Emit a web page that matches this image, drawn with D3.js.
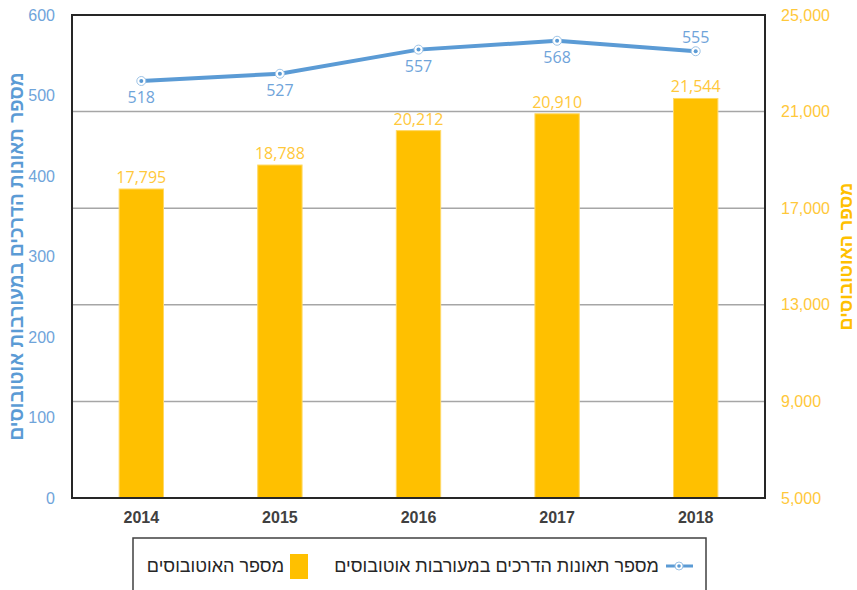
<!DOCTYPE html>
<html>
<head>
<meta charset="utf-8">
<script src="https://cdn.jsdelivr.net/npm/d3@7"></script>
<style>
	body { margin: 0; background: #fff; }
	text { font-family: "Liberation Sans", "DejaVu Sans", sans-serif; }
	.num { font-family: "Open Sans", "Liberation Sans", sans-serif; }
</style>
</head>
<body>
<div id="wrapper"></div>
<script>
	// Data
	const years = ['2014', '2015', '2016', '2017', '2018']
	const accidents = [518, 527, 557, 568, 555]
	const buses = [17795, 18788, 20212, 20910, 21544]
	const leftTicks = [0, 100, 200, 300, 400, 500, 600]
	const rightTicks = [5000, 9000, 13000, 17000, 21000, 25000]
	// which accident labels sit above the point
	const labelAbove = [false, false, false, false, true]

	const leftTitle = 'מספר תאונות הדרכים במעורבות אוטובוסים'
	const rightTitle = 'מספר האוטובוסים'

	const blue = '#5B9BD5'
	const lightBlue = '#6FA4DA'
	const yellow = '#FFC000'
	const lightYellow = '#FFC83A'

	// Chart Dimensions
	let dimensions = {
		width: 857,
		height: 590,
		margin: { top: 15, bottom: 92, right: 92, left: 72 }
	}
	dimensions.boundedWidth = dimensions.width - dimensions.margin.left - dimensions.margin.right
	dimensions.boundedHeight = dimensions.height - dimensions.margin.top - dimensions.margin.bottom

	const wrapper = d3.select('#wrapper')
		.append('svg')
			.attr('width', dimensions.width)
			.attr('height', dimensions.height)

	const bounds = wrapper.append('g')
		.attr('transform', `translate(${dimensions.margin.left},${dimensions.margin.top})`)

	// Scales
	const xScale = d3.scaleBand()
		.domain(years)
		.range([0, dimensions.boundedWidth])
		.padding(0)

	const yLeft = d3.scaleLinear()
		.domain([0, 600])
		.range([dimensions.boundedHeight, 0])

	const yRight = d3.scaleLinear()
		.domain([5000, 25000])
		.range([dimensions.boundedHeight, 0])

	const barWidth = xScale.bandwidth() * 0.32
	const cx = d => xScale(d) + xScale.bandwidth() / 2

	// Gridlines (from secondary axis)
	bounds.append('g')
		.selectAll('line')
		.data(rightTicks.slice(1, -1))
		.join('line')
			.attr('x1', 0)
			.attr('x2', dimensions.boundedWidth)
			.attr('y1', d => yRight(d))
			.attr('y2', d => yRight(d))
			.attr('stroke', '#a6a6a6')
			.attr('stroke-width', 1.5)

	// Bars
	bounds.append('g')
		.selectAll('rect')
		.data(buses)
		.join('rect')
			.attr('x', (d, i) => cx(years[i]) - barWidth / 2)
			.attr('width', barWidth)
			.attr('y', d => yRight(d))
			.attr('height', d => dimensions.boundedHeight - yRight(d))
			.attr('fill', yellow)
			.attr('stroke', '#FFD966')
			.attr('stroke-width', 1)

	// Bar labels
	bounds.append('g')
		.selectAll('text')
		.data(buses)
		.join('text')
			.attr('class', 'num')
			.attr('x', (d, i) => cx(years[i]))
			.attr('y', d => yRight(d) - 6)
			.attr('text-anchor', 'middle')
			.attr('font-size', 16)
			.attr('fill', lightYellow)
			.text(d => d3.format(',')(d))

	// Frame
	bounds.append('rect')
		.attr('x', 0)
		.attr('y', 0)
		.attr('width', dimensions.boundedWidth)
		.attr('height', dimensions.boundedHeight)
		.attr('fill', 'none')
		.attr('stroke', '#262626')
		.attr('stroke-width', 2)

	// Line
	const lineGen = d3.line()
		.x((d, i) => cx(years[i]))
		.y(d => yLeft(d))

	bounds.append('path')
		.datum(accidents)
		.attr('d', lineGen)
		.attr('fill', 'none')
		.attr('stroke', blue)
		.attr('stroke-width', 4)
		.attr('stroke-linecap', 'round')

	const markers = bounds.append('g')
		.selectAll('g')
		.data(accidents)
		.join('g')
			.attr('transform', (d, i) => `translate(${cx(years[i])},${yLeft(d)})`)
	markers.append('circle')
		.attr('r', 4.5)
		.attr('fill', '#fff')
		.attr('stroke', '#9DC3E6')
		.attr('stroke-width', 1)
	markers.append('circle')
		.attr('r', 2)
		.attr('fill', blue)

	// Line labels
	bounds.append('g')
		.selectAll('text')
		.data(accidents)
		.join('text')
			.attr('class', 'num')
			.attr('x', (d, i) => cx(years[i]))
			.attr('y', (d, i) => labelAbove[i] ? yLeft(d) - 8 : yLeft(d) + 22)
			.attr('text-anchor', 'middle')
			.attr('font-size', 16)
			.attr('fill', lightBlue)
			.text(d => d)

	// Axes
	const leftAxis = d3.axisLeft(yLeft).tickValues(leftTicks).tickSize(0).tickPadding(17)
	const leftG = bounds.append('g').call(leftAxis)
	leftG.select('.domain').remove()
	leftG.selectAll('text')
		.attr('font-size', 16)
		.attr('fill', lightBlue)
		.attr('font-family', '"Open Sans", sans-serif')

	const rightAxis = d3.axisRight(yRight).tickValues(rightTicks).tickSize(0).tickPadding(16)
		.tickFormat(d3.format(','))
	const rightG = bounds.append('g')
		.attr('transform', `translate(${dimensions.boundedWidth},0)`)
		.call(rightAxis)
	rightG.select('.domain').remove()
	rightG.selectAll('text')
		.attr('font-size', 16)
		.attr('fill', lightYellow)
		.attr('font-family', '"Open Sans", sans-serif')

	const xAxis = d3.axisBottom(xScale).tickSize(0).tickPadding(14)
	const xG = bounds.append('g')
		.attr('transform', `translate(0,${dimensions.boundedHeight})`)
		.call(xAxis)
	xG.select('.domain').remove()
	xG.selectAll('text')
		.attr('font-size', 16)
		.attr('font-weight', 600)
		.attr('fill', '#404040')
		.attr('font-family', '"Open Sans", sans-serif')

	// Axis titles
	wrapper.append('text')
		.attr('transform', `translate(23,${dimensions.margin.top + dimensions.boundedHeight / 2}) rotate(-90)`)
		.attr('text-anchor', 'middle')
		.attr('font-size', 19)
		.attr('font-weight', 'bold')
		.attr('fill', blue)
		.text(leftTitle)

	wrapper.append('text')
		.attr('transform', `translate(852,${dimensions.margin.top + dimensions.boundedHeight / 2}) rotate(-90)`)
		.attr('text-anchor', 'middle')
		.attr('font-size', 18)
		.attr('font-weight', 'bold')
		.attr('fill', yellow)
		.text(rightTitle)

	// Legend
	const legend = wrapper.append('g')
	legend.append('rect')
		.attr('x', 133)
		.attr('y', 538)
		.attr('width', 573)
		.attr('height', 70)
		.attr('fill', '#fff')
		.attr('stroke', '#404040')
		.attr('stroke-width', 1.5)

	legend.append('line')
		.attr('x1', 666).attr('x2', 693)
		.attr('y1', 566).attr('y2', 566)
		.attr('stroke', blue)
		.attr('stroke-width', 3)
	legend.append('circle')
		.attr('cx', 679).attr('cy', 566).attr('r', 4)
		.attr('fill', '#fff').attr('stroke', '#9DC3E6')
	legend.append('circle')
		.attr('cx', 679).attr('cy', 566).attr('r', 1.8)
		.attr('fill', blue)
	legend.append('text')
		.attr('x', 659)
		.attr('y', 572)
		.attr('text-anchor', 'end')
		.attr('font-size', 18)
		.attr('fill', '#262626')
		.text(leftTitle)

	legend.append('rect')
		.attr('x', 290).attr('y', 554)
		.attr('width', 18).attr('height', 25)
		.attr('fill', yellow)
	legend.append('text')
		.attr('x', 284)
		.attr('y', 572)
		.attr('text-anchor', 'end')
		.attr('font-size', 18)
		.attr('fill', '#262626')
		.text(rightTitle)
</script>
</body>
</html>
